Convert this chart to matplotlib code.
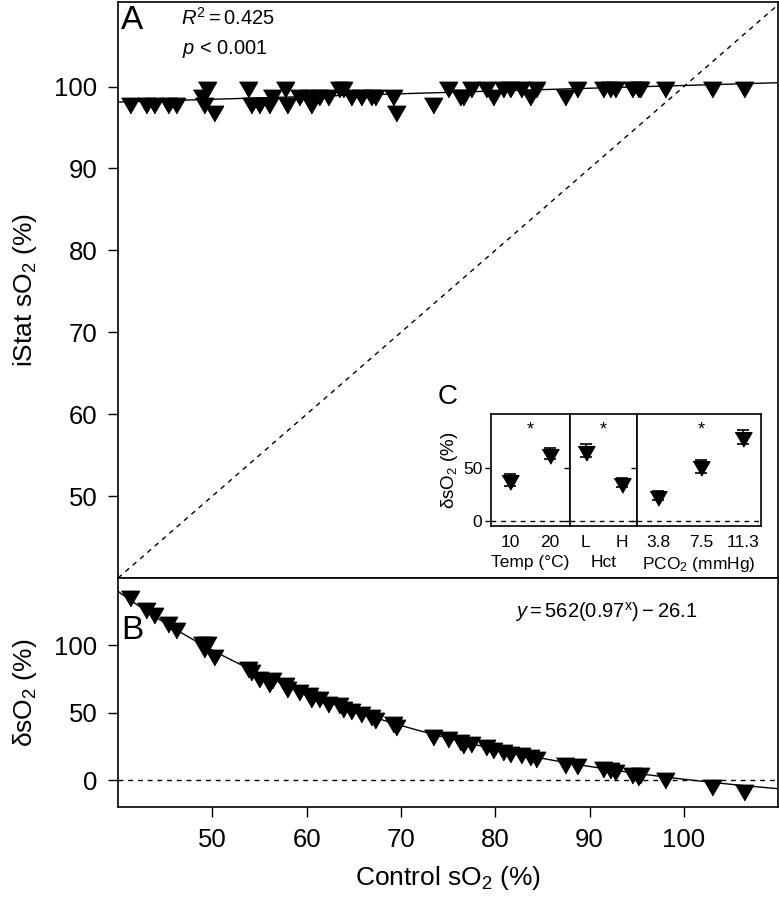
import numpy as np
import matplotlib
matplotlib.use('Agg')
import matplotlib.pyplot as plt

plt.rcParams['font.family'] = ['Liberation Sans', 'DejaVu Sans']
plt.rcParams['mathtext.fontset'] = 'custom'
plt.rcParams['mathtext.rm'] = 'Liberation Sans'
plt.rcParams['mathtext.it'] = 'Liberation Sans:italic'
plt.rcParams['axes.linewidth'] = 1.2

# data (A and B share control sO2)
control = [41.3, 43.0, 43.8, 45.3, 46.1, 48.9, 49.4, 49.1, 50.2, 53.8, 54.1, 54.9, 56.3, 56.0,
           57.7, 57.9, 59.2, 60.2, 60.5, 61.3, 62.3, 63.4, 63.9, 64.7, 65.8, 66.8, 67.3, 69.2,
           69.5, 73.4, 75.0, 76.3, 76.6, 77.4, 79.0, 79.8, 80.8, 81.6, 82.7, 83.7, 84.3, 87.4,
           88.7, 91.4, 92.2, 92.7, 94.5, 95.1, 95.3, 98.0, 103.0, 106.4]
istat = [98, 98, 98, 98, 98, 99, 100, 98, 97, 100, 98, 98, 99, 98,
         100, 98, 99, 99, 98, 99, 99, 100, 100, 99, 99, 99, 99, 99,
         97, 98, 100, 99, 99, 100, 100, 99, 100, 100, 100, 99, 100, 99,
         100, 100, 100, 100, 100, 100, 100, 100, 100, 100]
delta = [136.6, 127.5, 123.7, 117.5, 112.6, 102.7, 102.7, 98.5, 92.8, 84.1, 81.6, 76.7, 75.5, 73.0,
         71.8, 69.0, 66.8, 64.4, 62.0, 61.4, 58.1, 56.9, 54.4, 53.1, 50.7, 48.3, 45.8, 43.3,
         40.8, 33.4, 32.2, 29.7, 27.2, 28.5, 26.0, 23.5, 22.3, 21.0, 19.8, 18.6, 17.4, 12.4,
         11.9, 9.9, 8.7, 7.4, 5.0, 3.7, 5.0, 1.2, -3.7, -7.4]

# fitted curve in B: y = a * b^x - c
fit_a, fit_b, fit_c = 562, 0.97, 26.1

# inset C
temp_labels = ['10', '20']
temp_mean = [38.4, 63.0]
temp_err = [5.5, 5.0]
hct_labels = ['L', 'H']
hct_mean = [66.0, 36.0]
hct_err = [6.4, 4.0]
pco2_labels = ['3.8', '7.5', '11.3']
pco2_mean = [23.7, 51.2, 78.6]
pco2_err = [4.0, 6.0, 6.7]

tri = [(-1, 0.577), (1, 0.577), (0, -1.155)]

fig = plt.figure(figsize=(7.79, 8.97), dpi=100)
axA = fig.add_axes([0.1515, 0.3556, 0.8475, 0.642])
axB = fig.add_axes([0.1515, 0.1003, 0.8475, 0.2553])

# Panel A
axA.plot([40, 110], [40, 110], 'k--', lw=1, dashes=(3.5, 3.5))
coef = np.polyfit(control, istat, 1)
xx = np.array([40, 110])
axA.plot(xx, np.polyval(coef, xx), 'k-', lw=1)
axA.plot(control, istat, ls='none', marker=tri, ms=15, color='k')
axA.set_xlim(40, 110)
axA.set_ylim(40, 110.3)
axA.set_xticks(range(50, 101, 10))
axA.set_yticks(range(50, 101, 10))
axA.tick_params(direction='out', length=7, width=1, labelsize=18.5, pad=8, labelbottom=False)
axA.set_ylabel('iStat sO$_2$ (%)', fontsize=19)
axA.yaxis.set_label_coords(-0.12, 0.5)
axA.text(0.005, 0.995, 'A', transform=axA.transAxes, fontsize=24, ha='left', va='top')
axA.text(0.167, 0.972, '$R^2 = 0.425$', transform=axA.transAxes, fontsize=14.5, ha='center', va='center')
axA.text(0.162, 0.918, '$p$ < 0.001', transform=axA.transAxes, fontsize=14.5, ha='center', va='center')

# Panel B
axB.axhline(0, color='k', ls='--', lw=1, dashes=(3.5, 3.5))
xc = np.linspace(40, 110, 200)
axB.plot(xc, fit_a * fit_b ** xc - fit_c, 'k-', lw=1)
axB.plot(control, delta, ls='none', marker=tri, ms=15, color='k')
axB.set_xlim(40, 110)
axB.set_ylim(-20, 150)
axB.set_xticks(range(50, 101, 10))
axB.set_yticks([0, 50, 100])
axB.tick_params(direction='out', length=7, width=1, labelsize=18.5, pad=8)
axB.set_ylabel('\u03b4sO$_2$ (%)', fontsize=19)
axB.yaxis.set_label_coords(-0.12, 0.5)
axB.set_xlabel('Control sO$_2$ (%)', fontsize=19)
axB.xaxis.set_label_coords(0.5, -0.25)
axB.text(0.005, 0.84, 'B', transform=axB.transAxes, fontsize=24, ha='left', va='top')
axB.text(0.739, 0.853, r'$y = 562(0.97^{\mathrm{x}}) - 26.1$', transform=axB.transAxes,
         fontsize=14.5, ha='center', va='center')

# Inset C
groups = [(temp_labels, temp_mean, temp_err, 'Temp (\u00b0C)', 0.1022, (-0.48, 1.51), [0.5]),
          (hct_labels, hct_mean, hct_err, 'Hct', 0.0852, (-0.43, 1.42), [0.5]),
          (pco2_labels, pco2_mean, pco2_err, 'PCO$_2$ (mmHg)', 0.1592, (-0.51, 2.41), [1])]
left = 0.630
for i, (labs, mean, err, name, w, lim, star) in enumerate(groups):
    ax = fig.add_axes([left, 0.4139, w, 0.1242])
    left += w
    pos = np.arange(len(labs))
    ax.axhline(0, color='k', ls='--', lw=1, dashes=(3.5, 3.5))
    ax.errorbar(pos, mean, yerr=err, fmt='none', ecolor='k', elinewidth=1.2, capsize=4.3, capthick=1.2)
    ax.plot(pos, mean, ls='none', marker=tri, ms=14, color='k')
    for s in star:
        ax.text(s, 93, '*', ha='center', va='top', fontsize=13)
    ax.set_xlim(*lim)
    ax.set_ylim(-4.4, 100)
    ax.set_xticks(pos)
    ax.set_xticklabels(labs)
    ax.set_yticks([0, 50])
    ax.tick_params(axis='y', direction='out', length=4, width=1, labelsize=12.5, pad=2)
    ax.tick_params(axis='x', length=0, labelsize=12.5, pad=7)
    ax.set_xlabel(name, fontsize=12.5, labelpad=3)
    if i == 0:
        ax.set_ylabel('\u03b4sO$_2$ (%)', fontsize=13.5, labelpad=2)
    else:
        ax.tick_params(axis='y', labelleft=False)
fig.text(448 / 779, 1 - 397 / 897, 'C', fontsize=20, ha='center', va='center')

plt.savefig('out.png', dpi=100)
